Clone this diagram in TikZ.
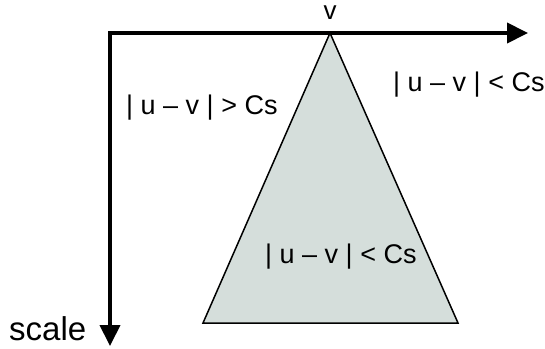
\documentclass[tikz,border=0pt]{standalone}
\usepackage{fontspec}
\setmainfont{Liberation Sans}
\usetikzlibrary{arrows.meta}

\begin{document}
\begin{tikzpicture}[x=1pt,y=-1pt,
		axis/.style={line width=4pt, line join=miter, {Triangle[length=21pt,width=20pt]}-{Triangle[length=21pt,width=20pt]}},
		cone/.style={draw=black, line width=1.5pt, line join=miter, fill=conefill},
		cond/.style={anchor=base west, inner sep=0pt, font=\fontsize{27}{32}\selectfont}]
				\definecolor{conefill}{HTML}{D5DEDB}
				\useasboundingbox (0,0) rectangle (545,348);
				%% Corners ------
				\coordinate (origin) at (110,33);
				\coordinate (xtip) at (528,33);
				\coordinate (ytip) at (110,346);
				\coordinate (apex) at (330,33);
				\coordinate (baseL) at (203,323);
				\coordinate (baseR) at (458,323);
				%% Cone ---------
				\draw[cone] (apex) -- (baseL) -- (baseR) -- cycle;
				%% Axes ---------
				\draw[axis] (xtip) -- (origin) -- (ytip);
				%% Labels -------
				\node[anchor=base, inner sep=0pt, text height=14pt, text depth=0pt, font=\fontsize{26}{30}\selectfont] (vlab) at (330,19) {v};
				\node[anchor=base west, inner sep=0pt, font=\fontsize{33}{38}\selectfont] (scalelab) at (9,340) {scale};
				\node[cond] (outleft) at (126,114) {| u – v | > Cs};
				\node[cond] (outright) at (393,91) {| u – v | < Cs};
				\node[cond] (inside) at (265,263) {| u – v | < Cs};
			\end{tikzpicture}
\end{document}
